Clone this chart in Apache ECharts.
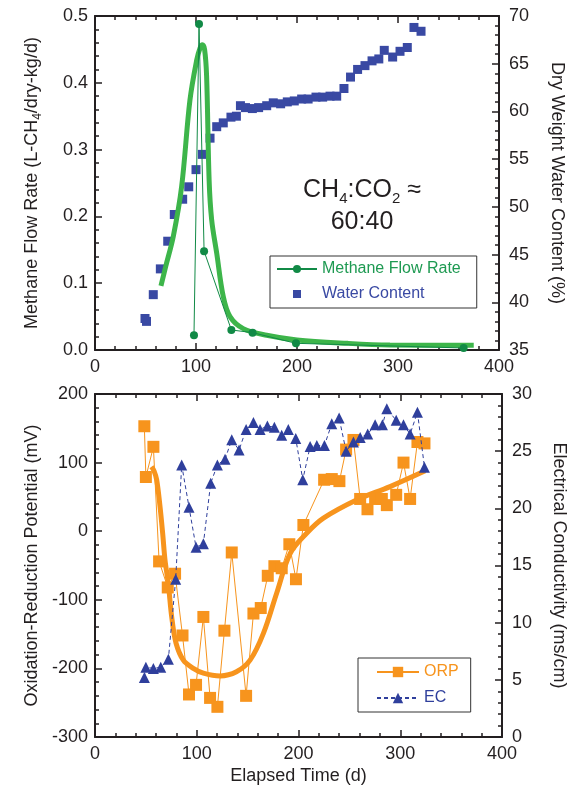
<!DOCTYPE html>
<html><head><meta charset="utf-8">
<script src="https://cdn.jsdelivr.net/npm/echarts@6/dist/echarts.min.js"></script>
<style>html,body{margin:0;padding:0;background:#fff}#c{width:569px;height:793px}</style>
</head><body><div id="c"></div>
<script>
// ---------- data ----------
const methaneDays = [98, 103, 108, 135, 156, 199, 365];
const methaneRate = [0.022, 0.488, 0.148, 0.030, 0.026, 0.010, 0.003];

const methaneFitDays = [65.3, 70, 77.5, 85.8, 94, 100.7, 104, 106.3, 108.5, 110.5, 113, 115.5, 120.5, 127, 133.7, 146.8, 170, 200, 250, 292, 375];
const methaneFitRate = [0.096, 0.125, 0.17, 0.245, 0.374, 0.434, 0.452, 0.457, 0.45, 0.41, 0.254, 0.195, 0.145, 0.08, 0.05, 0.032, 0.022, 0.015, 0.010, 0.0075, 0.007];

const waterDays = [49.5, 51, 57.7, 64.7, 72, 78.5, 86.8, 92.8, 100, 106.3, 113.9, 120.5, 127, 134.6, 140, 144, 149, 155.8, 162, 170, 176.5, 183.8, 190.4, 197.3, 204.6, 211, 218.8, 225.4, 232.7, 239.3, 246.5, 253, 260, 267.3, 274.3, 281, 286.4, 294.7, 302, 309.2, 315.8, 322.8];
const waterContent = [38.3, 38.0, 40.8, 43.5, 46.4, 49.2, 50.8, 52.1, 53.9, 55.5, 57.2, 58.4, 58.8, 59.4, 59.5, 60.6, 60.4, 60.3, 60.4, 60.6, 60.9, 60.8, 61.0, 61.1, 61.3, 61.3, 61.5, 61.5, 61.6, 61.6, 62.4, 63.6, 64.4, 64.8, 65.3, 65.5, 66.4, 65.7, 66.3, 66.7, 68.8, 68.4];

const orpDays = [48.5, 50, 57.4, 63, 71.5, 78.7, 86, 92.4, 99.3, 106.5, 113.1, 120.3, 127.2, 134.4, 148.5, 155.7, 162.9, 169.8, 176.3, 183.5, 191, 197.5, 204.8, 225.2, 232.7, 240.2, 246.8, 254, 260.6, 267.8, 275.3, 281.9, 286.8, 296, 303.2, 309.7, 316.9, 323.8];
const orpValues = [153, 79, 123, -44, -82, -62, -152, -238, -224, -125, -243, -256, -145, -31, -240, -120, -112, -65, -51, -54, -19, -70, 9, 75, 76, 73, 119, 133, 47, 32, 47, 47, 38, 53, 100, 47, 130, 128];

const orpFitDays = [55.5, 58, 60.6, 63.9, 66.5, 68.8, 72, 75.4, 79.6, 86.8, 96.6, 106.5, 123, 139, 152.4, 165.5, 178.6, 192, 208, 224.5, 257, 290, 324.5];
const orpFitValues = [94, 88, 75, 36, -3, -42, -76, -125, -163, -188, -200, -207, -211, -205, -188, -149, -90, -32, -3, 19, 45.5, 65, 88];

const ecDays = [48.5, 50, 57.4, 64.6, 72.1, 79.3, 85.2, 92.4, 99.3, 106.5, 113.7, 120.3, 127.8, 134.4, 141.6, 148.5, 155.7, 162.2, 169.4, 176.3, 183.5, 190, 197.3, 204.2, 211.4, 218, 225.5, 232.7, 239.9, 246.8, 254, 260.6, 268, 275.3, 282.5, 286.8, 296, 303.2, 309.7, 316.9, 323.8];
const ecValues = [5.2, 6.1, 6.0, 6.1, 6.8, 13.8, 23.8, 20.1, 16.6, 16.9, 22.2, 23.8, 24.3, 26.0, 25.1, 26.9, 27.5, 26.9, 27.2, 27.1, 26.4, 26.9, 26.1, 22.5, 25.4, 25.5, 25.5, 27.4, 27.9, 25.0, 25.8, 26.2, 26.5, 27.3, 27.3, 28.7, 27.7, 27.3, 26.5, 28.4, 23.6];

const xRange = [0, 400, 100];
const methaneAxisRange = [0, 0.5, 0.1];
const waterAxisRange = [35, 70, 5];
const orpAxisRange = [-300, 200, 100];
const ecAxisRange = [0, 30, 5];

// ---------- styling ----------
const FONT = '"Liberation Sans", Arial, Helvetica, sans-serif';
const INK = '#231f20';
const C_METH = '#118a46', C_METH_TXT = '#1e9a52', C_FIT = '#3db54a';
const C_WATER = '#3949a3', C_ORP = '#f7941d', C_EC = '#2f3f9c';

function zip(a, b) { return a.map((v, i) => [v, b[i]]); }

function axisCommon(range) {
  return {
    type: 'value', min: range[0], max: range[1], interval: range[2],
    axisLine: { show: true, onZero: false, lineStyle: { color: INK, width: 2 } },
    axisTick: { show: true, inside: true, length: 7, lineStyle: { color: INK, width: 1.5 } },
    minorTick: { show: true, splitNumber: 5, length: 4, lineStyle: { color: INK, width: 1.5 } },
    splitLine: { show: false },
    axisLabel: { show: true, fontSize: 18, fontFamily: FONT, color: INK, margin: 8 }
  };
}
function xAx(grid, pos, labels, name) {
  const a = axisCommon(xRange);
  a.gridIndex = grid; a.position = pos;
  a.axisLabel.show = labels;
  if (name) {
    a.name = name; a.nameLocation = 'middle'; a.nameGap = 30;
    a.nameTextStyle = { fontSize: 18, fontFamily: FONT, color: INK };
  }
  return a;
}
function yAx(grid, pos, range, name, gap, rot, fmt, rich) {
  const a = axisCommon(range);
  a.gridIndex = grid; a.position = pos;
  if (fmt) a.axisLabel.formatter = fmt;
  a.axisLabel.margin = pos === 'left' ? 7 : 10;
  a.name = name; a.nameLocation = 'middle'; a.nameGap = gap; a.nameRotate = rot;
  a.nameTextStyle = { fontSize: 18, fontFamily: FONT, color: INK };
  if (rich) { a.nameTextStyle.lineHeight = 24; a.nameTextStyle.rich = rich; }
  return a;
}

const subRich = { s: { fontSize: 12, fontFamily: FONT, color: INK, lineHeight: 12, verticalAlign: 'bottom' } };

const option = {
  animation: false,
  backgroundColor: '#fff',
  grid: [
    { left: 95, top: 16, width: 404, height: 334, containLabel: false, outerBoundsMode: 'none' },
    { left: 95, top: 394, width: 407, height: 343, containLabel: false, outerBoundsMode: 'none' }
  ],
  xAxis: [
    xAx(0, 'bottom', true),
    xAx(0, 'top', false),
    xAx(1, 'bottom', true, 'Elapsed Time (d)'),
    xAx(1, 'top', false)
  ],
  yAxis: [
    yAx(0, 'left', methaneAxisRange, 'Methane Flow Rate (L-CH{s|4}/dry-kg/d)', 51, 90, v => v.toFixed(1), subRich),
    yAx(0, 'right', waterAxisRange, 'Dry Weight Water Content (%)', 49, -90),
    yAx(1, 'left', orpAxisRange, 'Oxidation-Reduction Potential (mV)', 52, 90),
    yAx(1, 'right', ecAxisRange, 'Electrical Conductivity (ms/cm)', 48, -90)
  ],
  legend: [
    {
      left: 270, top: 256, orient: 'vertical', itemWidth: 40, itemHeight: 10, itemGap: 9,
      borderColor: '#333', borderWidth: 1, padding: [5, 16, 6, 6], backgroundColor: '#fff',
      textStyle: { fontSize: 16, fontFamily: FONT },
      data: [
        { name: 'Methane Flow Rate', textStyle: { color: C_METH_TXT } },
        { name: 'Water Content', textStyle: { color: C_WATER } }
      ]
    },
    {
      left: 358, top: 658, orient: 'vertical', itemWidth: 42, itemHeight: 13, itemGap: 10,
      borderColor: '#333', borderWidth: 1, padding: [6, 12, 6, 18], backgroundColor: '#fff',
      textStyle: { fontSize: 16, fontFamily: FONT },
      data: [
        { name: 'ORP', textStyle: { color: C_ORP } },
        { name: 'EC', textStyle: { color: C_EC } }
      ]
    }
  ],
  graphic: [
    {
      type: 'text', x: 362, y: 174, z: 100,
      style: {
        text: 'CH{s|4}:CO{s|2} ≈\n60:40',
        fontSize: 25, fontFamily: FONT, fill: INK, align: 'center', verticalAlign: 'top', lineHeight: 32,
        rich: { s: { fontSize: 15, fontFamily: FONT, fill: INK, lineHeight: 15, verticalAlign: 'bottom' } }
      }
    }
  ],
  series: [
    {
      name: 'Water Content', type: 'line', xAxisIndex: 0, yAxisIndex: 1,
      data: zip(waterDays, waterContent), symbol: 'rect', symbolSize: 9,
      lineStyle: { width: 0, opacity: 0 }, itemStyle: { color: C_WATER }, z: 2
    },
    {
      name: 'fit-methane', type: 'line', xAxisIndex: 0, yAxisIndex: 0,
      data: zip(methaneFitDays, methaneFitRate), smooth: 0.35, symbol: 'none',
      lineStyle: { width: 5, color: C_FIT }, itemStyle: { color: C_FIT }, z: 3
    },
    {
      name: 'Methane Flow Rate', type: 'line', xAxisIndex: 0, yAxisIndex: 0,
      data: zip(methaneDays, methaneRate), symbol: 'circle', symbolSize: 8,
      lineStyle: { width: 1, color: C_METH }, itemStyle: { color: C_METH }, z: 4
    },
    {
      name: 'fit-orp', type: 'line', xAxisIndex: 2, yAxisIndex: 2,
      data: zip(orpFitDays, orpFitValues), smooth: 0.35, symbol: 'none',
      lineStyle: { width: 5, color: C_ORP }, itemStyle: { color: C_ORP }, z: 2
    },
    {
      name: 'ORP', type: 'line', xAxisIndex: 2, yAxisIndex: 2,
      data: zip(orpDays, orpValues), symbol: 'rect', symbolSize: 12,
      lineStyle: { width: 1, color: C_ORP }, itemStyle: { color: C_ORP }, z: 3
    },
    {
      name: 'EC', type: 'line', xAxisIndex: 2, yAxisIndex: 3,
      data: zip(ecDays, ecValues), symbol: 'triangle', symbolSize: 11,
      lineStyle: { width: 1, color: C_EC, type: [4, 3] }, itemStyle: { color: C_EC }, z: 4
    }
  ]
};

const chart = echarts.init(document.getElementById('c'), null, { renderer: 'canvas' });
chart.setOption(option);
</script>
</body></html>
